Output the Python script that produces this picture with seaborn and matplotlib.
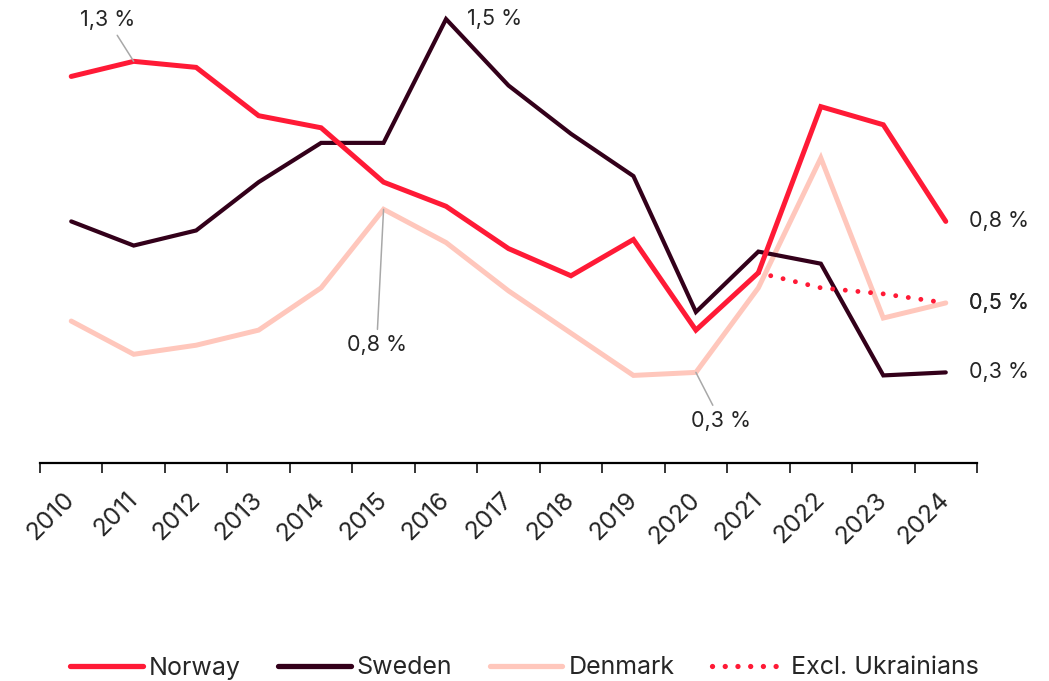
import numpy as np
import pandas as pd
import matplotlib
matplotlib.use('Agg')
import matplotlib.pyplot as plt
import seaborn as sns
from matplotlib.lines import Line2D

years = list(range(2010, 2025))
norway = [1.28, 1.33, 1.31, 1.15, 1.11, 0.93, 0.85, 0.71, 0.62, 0.74, 0.44, 0.63, 1.18, 1.12, 0.80]
sweden = [0.80, 0.72, 0.77, 0.93, 1.06, 1.06, 1.47, 1.25, 1.09, 0.95, 0.50, 0.70, 0.66, 0.29, 0.30]
denmark = [0.47, 0.36, 0.39, 0.44, 0.58, 0.84, 0.73, 0.57, 0.43, 0.29, 0.30, 0.58, 1.01, 0.48, 0.53]
excl_years = [2021, 2022, 2023, 2024]
excl_ukr = [0.63, 0.58, 0.56, 0.53]

colors = {'Norway': '#FF1A36', 'Sweden': '#33001A', 'Denmark': '#FFC7BC'}

df = pd.DataFrame({
    'År': years * 3,
    'Verdi': norway + sweden + denmark,
    'Land': ['Norway'] * 15 + ['Sweden'] * 15 + ['Denmark'] * 15,
})

sns.set_style('white')
plt.rcParams['font.family'] = ['Inter', 'DejaVu Sans']

fig = plt.figure(figsize=(10.49, 6.81), dpi=100)
ax = fig.add_axes([40 / 1049, 1 - 463 / 681, 937 / 1049, 463 / 681])

sns.lineplot(data=df, x='År', y='Verdi', hue='Land', palette=colors,
             hue_order=['Norway', 'Sweden', 'Denmark'], linewidth=3.6, ax=ax,
             legend=False)
for ln, lw in zip(ax.lines, [3.6, 3.0, 3.6]):
    ln.set_linewidth(lw)
    ln.set_solid_capstyle('round')
    ln.set_solid_joinstyle('miter')
# danmark bakerst
ax.lines[2].set_zorder(1.5)
ax.lines[0].set_zorder(2.5)
ax.lines[1].set_zorder(2.2)

sns.lineplot(x=excl_years, y=excl_ukr, color='#FF1A36', linewidth=3.5, ax=ax)
dot = ax.lines[-1]
dot.set_linestyle((0, (0.01, 2.6)))
dot.set_dash_capstyle('round')
dot.set_zorder(2.6)

ax.set_xlim(2009.5, 2024.5)
ax.set_ylim(0, 463 / 302)
ax.set_xlabel('')
ax.set_ylabel('')
ax.set_yticks([])
for s in ['top', 'right', 'left']:
    ax.spines[s].set_visible(False)
ax.spines['bottom'].set_color('black')
ax.spines['bottom'].set_linewidth(1.6)

ax.set_xticks(years)
ax.set_xticklabels([str(y) for y in years], rotation=45, ha='right', va='center',
                   rotation_mode='anchor', fontsize=18)
ax.tick_params(axis='x', which='major', length=0, pad=24)
ax.set_xticks(np.arange(2009.5, 2025, 1), minor=True)
ax.tick_params(axis='x', which='minor', bottom=True, length=7, width=1.1,
               color='black', direction='out')

lead = dict(arrowstyle='-', color='#A8A8A8', lw=1.1, shrinkA=2, shrinkB=0)
fs = 15.5
ax.annotate('1,3 %', xy=(2011, norway[1]), xytext=(-19, 30), textcoords='offset points',
            ha='center', va='center', fontsize=fs, arrowprops=lead)
ax.annotate('1,5 %', xy=(2016, sweden[6]), xytext=(35, 0), textcoords='offset points',
            ha='center', va='center', fontsize=fs)
ax.annotate('0,8 %', xy=(2015, denmark[5]), xytext=(-5, -98), textcoords='offset points',
            ha='center', va='center', fontsize=fs, arrowprops=lead)
ax.annotate('0,3 %', xy=(2020, denmark[10]), xytext=(18, -35), textcoords='offset points',
            ha='center', va='center', fontsize=fs, arrowprops=lead)
for val, txt in [(norway[-1], '0,8 %'), (denmark[-1], '0,5 %'), (excl_ukr[-1], '0,5 %'),
                 (sweden[-1], '0,3 %')]:
    ax.annotate(txt, xy=(2024, val), xytext=(17, 0), textcoords='offset points',
                ha='left', va='center', fontsize=fs, annotation_clip=False)

handles = [Line2D([], [], color=colors['Norway'], lw=3.8, solid_capstyle='round'),
           Line2D([], [], color=colors['Sweden'], lw=3.8, solid_capstyle='round'),
           Line2D([], [], color=colors['Denmark'], lw=3.8, solid_capstyle='round'),
           Line2D([], [], color='#FF1A36', lw=3.8, linestyle=(0, (0.01, 2.4)),
                  dash_capstyle='round')]
fig.legend(handles, ['Norway', 'Sweden', 'Denmark', 'Excl. Ukrainians'],
           loc='center', bbox_to_anchor=(0.5, 1 - 668 / 681), ncol=4, frameon=False,
           fontsize=18, handlelength=2.9, handletextpad=0.25, columnspacing=1.5)

fig.savefig('out.png', dpi=100)
